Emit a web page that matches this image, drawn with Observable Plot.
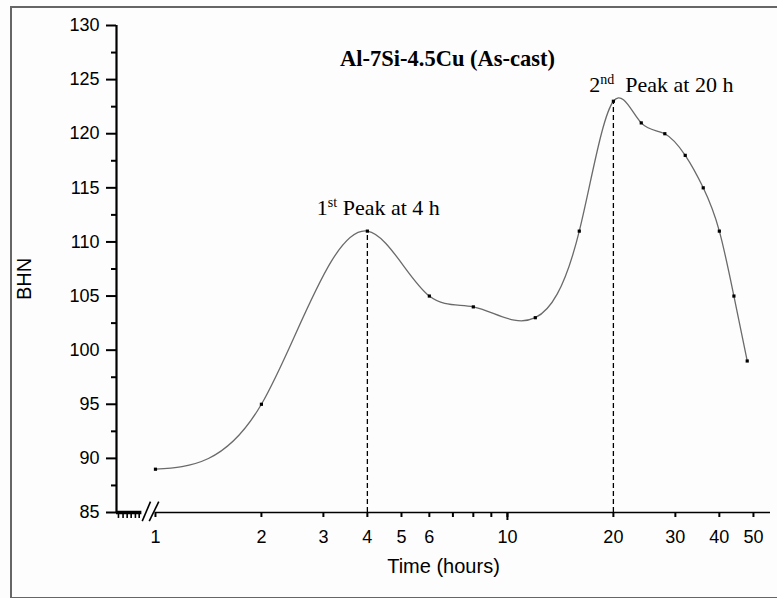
<!DOCTYPE html>
<html>
<head>
<meta charset="utf-8">
<script src="https://cdn.jsdelivr.net/npm/d3@7"></script>
<script src="https://cdn.jsdelivr.net/npm/@observablehq/plot@0.6"></script>
<style>
  html, body { margin: 0; padding: 0; background: #fdfdfd; }
  #wrap { position: relative; width: 777px; height: 598px; overflow: hidden; }
  #border { position: absolute; left: 10px; top: 6px; width: 800px; height: 589px;
            border-top: 2px solid #666; border-left: 2px solid #666; border-bottom: 2px solid #666; }
  #chart { position: absolute; left: 0; top: 0; }
</style>
</head>
<body>
<div id="wrap"><div id="border"></div><div id="chart"></div></div>
<script>
// ---- data ----
const times = [1, 2, 4, 6, 8, 12, 16, 20, 24, 28, 32, 36, 40, 44, 48];
const bhn   = [89, 95, 111, 105, 104, 103, 111, 123, 121, 120, 118, 115, 111, 105, 99];
const peakTimes = [4, 20];
const peakValues = [111, 123];
const peakOrdinal = ["1", "2"];
const peakSuffix = ["st", "nd"];
const xTicks = [1, 2, 3, 4, 5, 6, 7, 8, 9, 10, 20, 30, 40, 50];
const xMajorTicks = [10];
const yTicks = [85, 90, 95, 100, 105, 110, 115, 120, 125, 130];
const yMinorTicks = [87.5, 92.5, 97.5, 102.5, 107.5, 112.5, 117.5, 122.5, 127.5];
const xDomain = [0.775, 55.9];
const yDomain = [85, 130];
// broken-axis decoration (data units)
const breakHatch = [0.785, 0.809, 0.831, 0.853, 0.877, 0.899];
const hatchDepth = 84.45;
const breakSegment = [{x1: 0.775, x2: 0.915}];
const breakSlashes = [
  {x1: 0.917, y1: 84.2, x2: 0.968, y2: 86.0},
  {x1: 0.960, y1: 84.2, x2: 1.022, y2: 86.0}
];
const title = "Al-7Si-4.5Cu (As-cast)";
const xLabel = "Time (hours)";
const yLabel = "BHN";

const points = times.map((t, i) => ({t, v: bhn[i]}));
const peaks = peakTimes.map((t, i) => ({t, v: peakValues[i], n: peakOrdinal[i], s: peakSuffix[i]}));

const sans = "'Liberation Sans', Arial, sans-serif";
const serif = "'Liberation Serif', 'Times New Roman', serif";

// Natural cubic spline y(x) (like Origin's spline connection), as a d3 curve
function SplineX(context) { this._context = context; }
SplineX.prototype = {
  areaStart() { this._line = 0; },
  areaEnd() { this._line = NaN; },
  lineStart() { this._x = []; this._y = []; },
  point(x, y) { this._x.push(+x); this._y.push(+y); },
  lineEnd() {
    const X = this._x, Y = this._y, n = X.length, c = this._context;
    if (n) {
      this._line ? c.lineTo(X[0], Y[0]) : c.moveTo(X[0], Y[0]);
      if (n === 2) c.lineTo(X[1], Y[1]);
      else if (n > 2) {
        const h = [];
        for (let i = 0; i < n - 1; i++) h.push(X[i + 1] - X[i]);
        // tridiagonal solve for second derivatives
        const M = new Array(n).fill(0);
        const a = [], b = [], cc = [], d = [];
        for (let i = 1; i < n - 1; i++) {
          a.push(h[i - 1]); b.push(2 * (h[i - 1] + h[i])); cc.push(h[i]);
          d.push(6 * ((Y[i + 1] - Y[i]) / h[i] - (Y[i] - Y[i - 1]) / h[i - 1]));
        }
        const m = b.length;
        for (let i = 1; i < m; i++) {
          const w = a[i] / b[i - 1];
          b[i] -= w * cc[i - 1];
          d[i] -= w * d[i - 1];
        }
        const sol = new Array(m);
        sol[m - 1] = d[m - 1] / b[m - 1];
        for (let i = m - 2; i >= 0; i--) sol[i] = (d[i] - cc[i] * sol[i + 1]) / b[i];
        for (let i = 0; i < m; i++) M[i + 1] = sol[i];
        for (let i = 0; i < n - 1; i++) {
          const hi = h[i], dy = (Y[i + 1] - Y[i]) / hi;
          const s0 = dy - hi * (2 * M[i] + M[i + 1]) / 6;
          const s1 = dy + hi * (M[i] + 2 * M[i + 1]) / 6;
          c.bezierCurveTo(X[i] + hi / 3, Y[i] + s0 * hi / 3, X[i + 1] - hi / 3, Y[i + 1] - s1 * hi / 3, X[i + 1], Y[i + 1]);
        }
      }
    }
    if (this._line || (this._line !== 0 && n === 1)) c.closePath();
    this._line = 1 - this._line;
  }
};
const splineX = (context) => new SplineX(context);

const chart = Plot.plot({
  width: 777,
  height: 598,
  marginLeft: 116,
  marginRight: 7,
  marginTop: 25,
  marginBottom: 86,
  style: {background: "transparent", fontFamily: sans, color: "#000", overflow: "visible"},
  x: {type: "log", domain: xDomain},
  y: {type: "linear", domain: yDomain},
  marks: [
    // y axis
    Plot.ruleX([xDomain[0]], {y1: yDomain[0], y2: yDomain[1], stroke: "#000", strokeWidth: 2.2}),
    Plot.axisY({ticks: yTicks, tickSize: 10, tickPadding: 7, fontSize: 18, strokeWidth: 2, label: null, tickFormat: d => d}),
    Plot.axisY({ticks: yMinorTicks, tickSize: 5, strokeWidth: 2, label: null, tickFormat: () => ""}),
    // x axis
    Plot.ruleY([yDomain[0]], {x1: 1.0, x2: xDomain[1], stroke: "#000", strokeWidth: 1.6}),
    Plot.ruleY(breakSegment, {x1: "x1", x2: "x2", y: () => yDomain[0], stroke: "#000", strokeWidth: 3.5}),
    Plot.ruleX(breakHatch, {x: d => d, y1: () => yDomain[0], y2: () => hatchDepth, stroke: "#000", strokeWidth: 1.6}),
    Plot.link(breakSlashes, {x1: "x1", y1: "y1", x2: "x2", y2: "y2", stroke: "#000", strokeWidth: 1.6}),
    Plot.axisX({ticks: xTicks, tickSize: 5, tickPadding: 13, fontSize: 18, strokeWidth: 2, label: null, tickFormat: d => String(d)}),
    Plot.axisX({ticks: xMajorTicks, tickSize: 8, strokeWidth: 2, label: null, tickFormat: () => ""}),
    // dashed peak lines
    Plot.ruleX(peaks, {x: "t", y1: yDomain[0], y2: "v", stroke: "#000", strokeWidth: 1.3, strokeDasharray: "5,3"}),
    // curve
    Plot.line(points, {x: "t", y: "v", curve: splineX, stroke: "#6a6a6a", strokeWidth: 1.3}),
    Plot.dot(points, {x: "t", y: "v", symbol: "square", r: 1.8, fill: "#000", stroke: null}),
    // peak labels
    Plot.text(peaks, {x: "t", y: "v", text: d => `${d.n}|${d.s}|Peak at ${d.t} h`,
      fontFamily: serif, fontSize: 22, fill: "#000", className: "peak-label"}),
    // title
    Plot.text([title], {frameAnchor: "top", dx: 4, dy: 25, fontFamily: serif, fontWeight: "bold", fontSize: 22.5, fill: "#000"}),
    // axis labels
    Plot.text([xLabel], {frameAnchor: "bottom", dy: 60.5, fontSize: 20, fill: "#000"}),
    Plot.text([yLabel], {frameAnchor: "left", textAnchor: "middle", rotate: -90, dx: -92, dy: 10, fontSize: 20, fill: "#000"})
  ]
});

// place peak labels and build superscripts
const offsets = [{dx: 11, dy: -23}, {dx: 48, dy: -16}];
d3.select(chart).selectAll("g.peak-label text").each(function(d, i) {
  const el = d3.select(this);
  const parts = el.text().split("|");
  el.text(null);
  const o = offsets[i] || {dx: 0, dy: 0};
  const tr = el.attr("transform") || "";
  el.attr("transform", tr + ` translate(${o.dx},${o.dy})`);
  el.append("tspan").text(parts[0]);
  el.append("tspan").attr("font-size", "14").attr("dy", "-8").text(parts[1]);
  el.append("tspan").attr("dy", "8").text(i === 1 ? "\u00a0 " + parts[2] : " " + parts[2]);
});

document.getElementById("chart").appendChild(chart);
</script>
</body>
</html>
